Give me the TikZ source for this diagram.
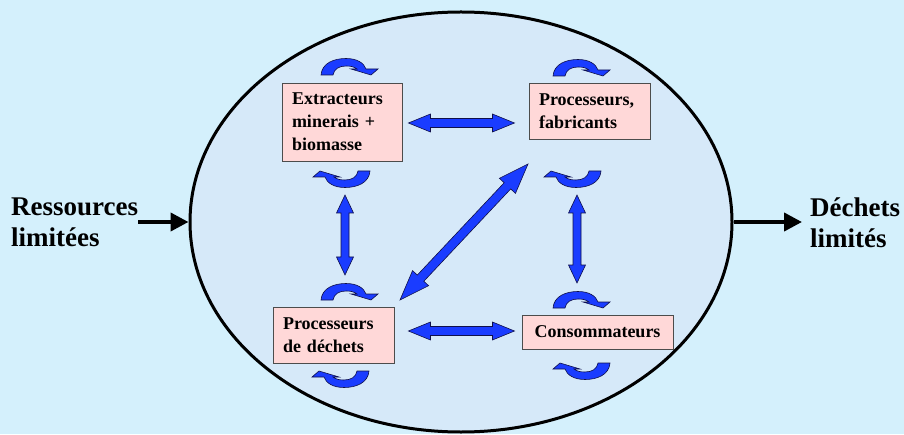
\documentclass[tikz,border=0pt]{standalone}
\usepackage{fontspec}
\setmainfont{Liberation Serif}
\usepackage{xcolor}
\usepackage{tikz}
\usetikzlibrary{arrows.meta, shapes.geometric, calc, positioning}
\definecolor{C_BG}  {HTML}{D4F0FC}
\definecolor{C_IN}  {HTML}{D6E9F9}
\definecolor{C_BOX} {HTML}{FFD8D8}
\definecolor{C_BLUE}{HTML}{1A3CFF}
\definecolor{C_EDGE}{HTML}{10104A}
\tikzset{
  %% -- actor boxes inside the cycle --
  ECO/box/.style={
    draw=black!70, line width=0.9pt, fill=C_BOX,
    align=left, inner xsep=10pt, inner ysep=0pt,
    font=\fontsize{18}{23}\selectfont\bfseries
  },
  %% -- the closed economy ellipse --
  ECO/cycle/.style={
    draw, ellipse, line width=3pt, fill=C_IN, inner sep=0pt,
    minimum width=542pt, minimum height=420pt
  },
  %% -- labels outside the ellipse --
  ECO/outer/.style={align=left, inner sep=0pt,
    font=\fontsize{27}{31}\selectfont\bfseries},
  %% -- in / out flow arrow --
  ECO/flow/.style={-{Triangle[length=18pt,width=18pt]}, line width=4pt},
  %% -- filled block arrows --
  ECO/block/.style={fill=C_BLUE, draw=C_EDGE, line width=0.6pt,
    line join=miter},
  %% -- curved self loop (head bottom right) --
  selfloop/.pic={
    \path[ECO/block] (0,0) .. controls (1,12) and (13,16.5) .. (25,16.5)
      .. controls (36,16.5) and (43,12) .. (45,6) -- (57,6) -- (50,0)
      -- (30,6) -- (36,6) .. controls (33,8.5) and (29,9) .. (25,9)
      .. controls (18,9) and (13,6) .. (12,0) -- cycle;
  },
}

%% double block arrow: from, to, head length, head half width, shaft half width
\newcommand{\blockarrow}[5]{%
  \path[ECO/block] let \p1=(#1), \p2=(#2),
    \n1={atan2(\y2-\y1,\x2-\x1)}, \n2={veclen(\x2-\x1,\y2-\y1)} in
    [shift={(\p1)}, rotate=\n1]
    (0,0) -- (#3,#4) -- (#3,#5) -- ({\n2-#3},#5) -- ({\n2-#3},#4)
    -- (\n2,0) -- ({\n2-#3},-#4) -- ({\n2-#3},-#5) -- (#3,-#5)
    -- (#3,-#4) -- cycle;}

\begin{document}
\begin{tikzpicture}[x=1pt, y=1pt]

%% background and frame
\fill[C_BG] (0,0) rectangle (904,434);
\useasboundingbox (0,0) rectangle (904,434);

%% ━━━━━━━━━━━━━━━━━━━━━━━━━━━━━━━━━━━━━━━━━━━━━━━━━━━━━━━━━━━━━━
%%  ECONOMY ELLIPSE AND OUTER FLOWS
%% ━━━━━━━━━━━━━━━━━━━━━━━━━━━━━━━━━━━━━━━━━━━━━━━━━━━━━━━━━━━━━━
\node[ECO/cycle] (eco) at (461,212) {};

\node[ECO/outer, anchor=north west] (res) at (11,236)
  {Ressources\\limitées};
\node[ECO/outer, anchor=north west] (dech) at (810,236)
  {Déchets\\limités};

\draw[ECO/flow] (res.east |- eco.west) -- (eco.west);
\coordinate (dechin) at ($(dech.west |- eco.east)+(-8,0)$);
\draw[ECO/flow] (eco.east) -- (dechin);

%% ━━━━━━━━━━━━━━━━━━━━━━━━━━━━━━━━━━━━━━━━━━━━━━━━━━━━━━━━━━━━━━
%%  ACTORS
%% ━━━━━━━━━━━━━━━━━━━━━━━━━━━━━━━━━━━━━━━━━━━━━━━━━━━━━━━━━━━━━━
\node[ECO/box, text width=100pt, minimum height=78pt] (ext) at (342,312)
  {Extracteurs\\minerais +\\biomasse};
\node[ECO/box, text width=101pt, minimum height=56pt] (fab) at (589.5,323)
  {Processeurs,\\fabricants};
\node[ECO/box, text width=131pt, minimum height=34pt, align=center]
  (cons) at (597.5,102) {Consommateurs};
\node[ECO/box, text width=101pt, minimum height=56pt] (recy) at (333.5,99)
  {Processeurs\\de déchets};

%% Self loops above and below each actor
\pic at (321,359) {selfloop};
\pic at (553,358) {selfloop};
\pic at (553,126) {selfloop};
\pic at (321,134) {selfloop};
\pic[rotate=180] at (370,263) {selfloop};
\pic[rotate=180] at (601,263) {selfloop};
\pic[rotate=180] at (610,71)  {selfloop};
\pic[rotate=180] at (369,63)  {selfloop};

%% ━━━━━━━━━━━━━━━━━━━━━━━━━━━━━━━━━━━━━━━━━━━━━━━━━━━━━━━━━━━━━━
%%  EXCHANGES BETWEEN ACTORS
%% ━━━━━━━━━━━━━━━━━━━━━━━━━━━━━━━━━━━━━━━━━━━━━━━━━━━━━━━━━━━━━━
\coordinate (extE)  at ($(ext.east)+(6,-1)$);
\coordinate (fabW)  at ($(extE)+(106,0)$);
\coordinate (recyE) at ($(recy.east)+(14,4)$);
\coordinate (consW) at ($(recyE)+(106,0)$);
\coordinate (extS)  at (345,239);
\coordinate (recyN) at (345,159);
\coordinate (fabS)  at (577,239);
\coordinate (consN) at (577,151);
\coordinate (diagA) at (400,134);
\coordinate (diagB) at (528,270);

\blockarrow{extE}{fabW}{22}{9}{4.5}
\blockarrow{recyE}{consW}{22}{9}{4.5}
\blockarrow{extS}{recyN}{18}{8.5}{4}
\blockarrow{fabS}{consN}{18}{8.5}{4}
\blockarrow{diagA}{diagB}{30}{11}{4.5}

\end{tikzpicture}
\end{document}
